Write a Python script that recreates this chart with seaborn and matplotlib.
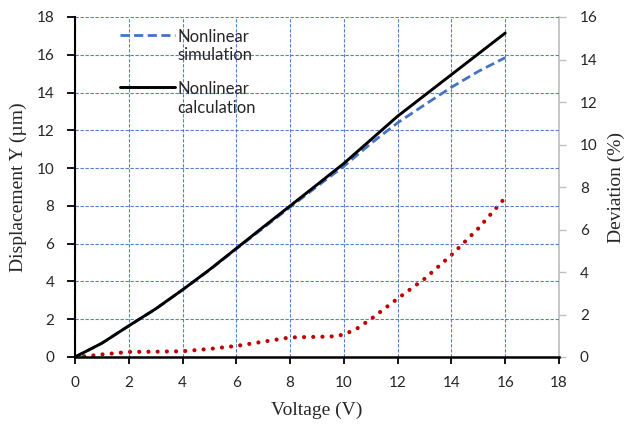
import matplotlib
matplotlib.use("Agg")
import matplotlib.pyplot as plt
from matplotlib.legend_handler import HandlerLine2D
import numpy as np
import seaborn as sns
import pandas as pd

# ---- data ----
voltage_calc = [0, 1, 2, 3, 4, 5, 6, 7, 8, 9, 10, 11, 12, 13, 14, 15, 16]
disp_calc = [0, 0.73, 1.65, 2.55, 3.56, 4.62, 5.75, 6.88, 8.0, 9.12, 10.25, 11.5, 12.75, 13.85, 14.95, 16.05, 17.15]
voltage_sim = [0, 1, 2, 3, 4, 5, 6, 7, 8, 9, 10, 11, 12, 13, 14, 15, 16]
disp_sim = [0, 0.73, 1.65, 2.54, 3.55, 4.6, 5.72, 6.83, 7.93, 9.03, 10.1, 11.3, 12.4, 13.35, 14.28, 15.12, 15.85]
voltage_dev = [0, 0.5, 1, 1.5, 2, 3, 4, 5, 6, 7, 8, 9, 9.5, 10, 10.5, 11, 12, 13, 14, 15, 16]
deviation = [0, 0.05, 0.12, 0.18, 0.24, 0.25, 0.27, 0.38, 0.52, 0.72, 0.92, 0.95, 0.96, 1.05, 1.35, 1.78, 2.75, 3.68, 4.8, 6.05, 7.5]

x_ticks = [0, 2, 4, 6, 8, 10, 12, 14, 16, 18]
y_ticks = [0, 2, 4, 6, 8, 10, 12, 14, 16, 18]
y2_ticks = [0, 2, 4, 6, 8, 10, 12, 14, 16]

df_calc = pd.DataFrame({"V": voltage_calc, "Y": disp_calc})
df_sim = pd.DataFrame({"V": voltage_sim, "Y": disp_sim})
df_dev = pd.DataFrame({"V": voltage_dev, "D": deviation})

sns.set_style("white")
plt.rcParams["font.family"] = ["Lato", "DejaVu Sans"]


class TopLineHandler(HandlerLine2D):
    """Align the legend line with the first text line."""
    def __init__(self, shift=0.0, **kw):
        super().__init__(**kw)
        self.shift = shift

    def create_artists(self, legend, orig_handle, xdescent, ydescent, width,
                       height, fontsize, trans):
        arts = super().create_artists(legend, orig_handle, xdescent, ydescent,
                                      width, height, fontsize, trans)
        for a in arts:
            a.set_ydata(np.asarray(a.get_ydata(), dtype=float) + self.shift * fontsize)
        return arts


fig = plt.figure(figsize=(6.25, 4.25), dpi=100)
ax = fig.add_axes([0.12, 0.16, 0.7744, 0.80])
ax2 = ax.twinx()

grid_color = "#4472C4"
sim_color = "#4472C4"
dev_color = "#C00000"

sns.lineplot(data=df_sim, x="V", y="Y", ax=ax, color=sim_color, lw=2.0,
             label="Nonlinear\nsimulation", zorder=3)
ax.lines[-1].set_dashes((3.3, 1.6))
sns.lineplot(data=df_calc, x="V", y="Y", ax=ax, color="black", lw=2.1,
             label="Nonlinear\ncalculation", zorder=4)

sns.lineplot(data=df_dev, x="V", y="D", ax=ax2, color=dev_color, lw=3.0, legend=False)
l = ax2.lines[-1]
l.set_linestyle((0, (0.01, 2.2)))
l.set_dash_capstyle("round")

ax.set_xlim(0, 18)
ax.set_ylim(0, 18)
ax2.set_ylim(0, 16)
ax.set_xticks(x_ticks)
ax.set_yticks(y_ticks)
ax2.set_yticks(y2_ticks)

ax.grid(True, color=grid_color, lw=0.8, linestyle=(0, (3, 1.5)), alpha=0.9)
ax.set_axisbelow(True)

ax.spines["top"].set_visible(False)
ax2.spines["top"].set_visible(False)
ax2.spines["left"].set_visible(False)
ax2.spines["bottom"].set_visible(False)
ax.spines["right"].set_visible(False)
ax.spines["left"].set_color("black")
ax.spines["left"].set_linewidth(1.5)
ax.spines["bottom"].set_color("black")
ax.spines["bottom"].set_linewidth(1.8)
ax2.spines["right"].set_color("#BFBFBF")
ax2.spines["right"].set_linewidth(1.2)

ax.tick_params(axis="x", direction="out", length=5, width=1.3, color="black",
               labelsize=11, labelcolor="#262626", pad=9, bottom=True)
ax.tick_params(axis="y", direction="out", length=6, width=1.3, color="black",
               labelsize=11, labelcolor="#262626", pad=9, left=True)
ax2.tick_params(axis="y", direction="out", length=5, width=1.0, color="#BFBFBF",
                labelsize=11, labelcolor="#262626", pad=10, right=True)

serif = ["Liberation Serif", "DejaVu Serif"]
ax.set_xlabel("Voltage (V)", fontsize=14, family=serif, labelpad=8)
ax.set_ylabel("Displacement Y (µm)", fontsize=14, family=serif, labelpad=7)
ax2.set_ylabel("Deviation (%)", fontsize=14, family=serif, labelpad=7)

ax.set_zorder(ax2.get_zorder() + 1)
ax.patch.set_visible(False)

handles, labels = ax.get_legend_handles_labels()
leg = ax.legend(handles, labels, loc="upper left", bbox_to_anchor=(0.093, 0.965),
                frameon=False, fontsize=12, handlelength=3.3, handletextpad=0.12,
                labelspacing=1.05, borderpad=0, borderaxespad=0,
                labelcolor="#262626",
                handler_map={h: TopLineHandler(shift=0.74) for h in handles})

fig.savefig("out.png", dpi=100)
